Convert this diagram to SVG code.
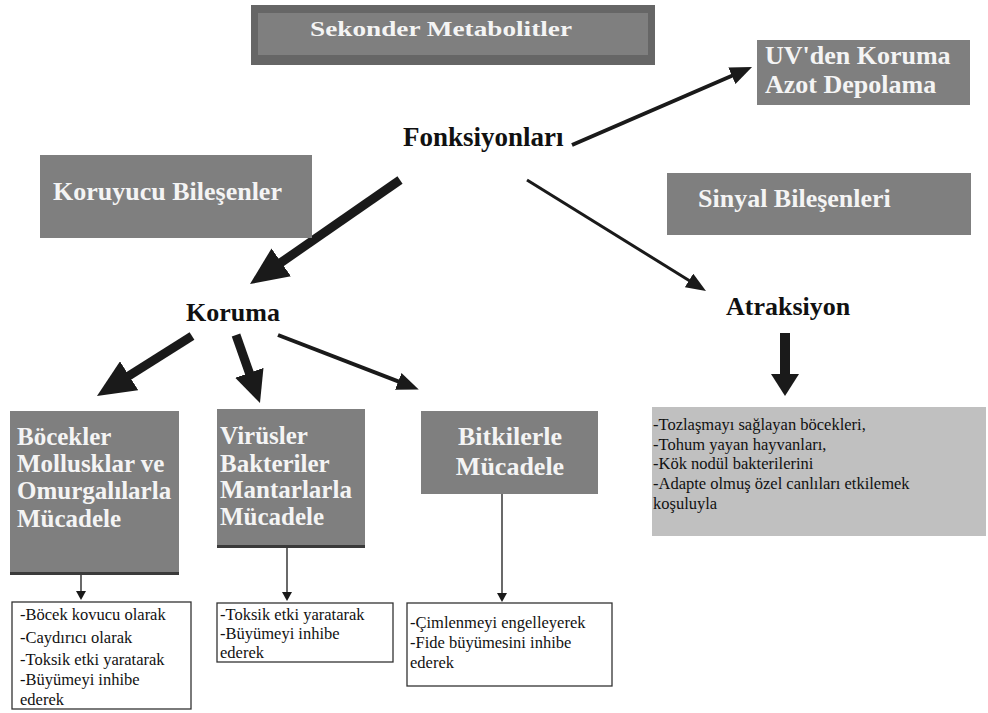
<svg xmlns="http://www.w3.org/2000/svg" width="988" height="713" viewBox="0 0 988 713">
<style>
.box{fill:#7f7f7f}
.h{font-family:"Liberation Serif","Times New Roman",serif;font-weight:bold;fill:#f4f4f4}
.k{font-family:"Liberation Serif","Times New Roman",serif;font-weight:bold;fill:#111}
.t{font-family:"Liberation Serif","Times New Roman",serif;fill:#111;font-size:16.5px}
.ln{stroke:#1a1a1a;fill:none}
.wb{fill:#fff;stroke:#333;stroke-width:1.3}
</style>
<defs>
<marker id="mBig" markerUnits="userSpaceOnUse" viewBox="0 0 38 34" markerWidth="38" markerHeight="34" refX="2" refY="17" orient="auto"><path d="M0,0 L38,17 L0,34 z" fill="#1a1a1a"/></marker>
<marker id="mMid" markerUnits="userSpaceOnUse" viewBox="0 0 32 30" markerWidth="32" markerHeight="30" refX="2" refY="15" orient="auto"><path d="M0,0 L32,15 L0,30 z" fill="#1a1a1a"/></marker>
<marker id="mDown" markerUnits="userSpaceOnUse" viewBox="0 0 22 28" markerWidth="22" markerHeight="28" refX="2" refY="14" orient="auto"><path d="M0,0 L22,14 L0,28 z" fill="#1a1a1a"/></marker>
<marker id="mS1" markerUnits="userSpaceOnUse" viewBox="0 0 22 18" markerWidth="22" markerHeight="18" refX="2" refY="9" orient="auto"><path d="M0,0 L22,9 L0,18 z" fill="#1a1a1a"/></marker>
<marker id="mS2" markerUnits="userSpaceOnUse" viewBox="0 0 20 16" markerWidth="20" markerHeight="16" refX="2" refY="8" orient="auto"><path d="M0,0 L20,8 L0,16 z" fill="#1a1a1a"/></marker>
<marker id="mT" markerUnits="userSpaceOnUse" viewBox="0 0 9 10" markerWidth="9" markerHeight="10" refX="1" refY="5" orient="auto"><path d="M0,0 L9,5 L0,10 z" fill="#1a1a1a"/></marker>
</defs>

<g id="connectors">
<line class="ln" x1="400" y1="180" x2="279.6" y2="263.5" stroke-width="9" marker-end="url(#mBig)"/>
<line class="ln" x1="192" y1="336" x2="127.4" y2="376.8" stroke-width="9" marker-end="url(#mBig)"/>
<line class="ln" x1="236" y1="335" x2="250" y2="374.7" stroke-width="9" marker-end="url(#mMid)"/>
<line class="ln" x1="278" y1="335" x2="400.1" y2="382.2" stroke-width="4" marker-end="url(#mS1)"/>
<line class="ln" x1="572" y1="145" x2="733.7" y2="75" stroke-width="4" marker-end="url(#mS1)"/>
<line class="ln" x1="527" y1="180" x2="690.7" y2="281.5" stroke-width="3" marker-end="url(#mS2)"/>
<line class="ln" x1="785" y1="333" x2="785" y2="376" stroke-width="10" marker-end="url(#mDown)"/>
<line class="ln" x1="81" y1="575" x2="81" y2="592" stroke-width="1.3" marker-end="url(#mT)"/>
<line class="ln" x1="287" y1="547" x2="287" y2="593" stroke-width="1.3" marker-end="url(#mT)"/>
<line class="ln" x1="502" y1="494" x2="502" y2="594" stroke-width="1.3" marker-end="url(#mT)"/>
</g>

<g id="title">
<rect x="251" y="5" width="404" height="60" fill="#666"/>
<rect x="258" y="13" width="390" height="42" fill="#7f7f7f"/>
<text class="h" x="441" y="36" font-size="21" text-anchor="middle" textLength="262" lengthAdjust="spacingAndGlyphs">Sekonder Metabolitler</text>
</g>

<g id="uv">
<rect class="box" x="757" y="40" width="213" height="65"/>
<text class="h" x="765" y="64" font-size="26">UV'den Koruma</text>
<text class="h" x="765" y="93" font-size="26">Azot Depolama</text>
</g>

<g id="fonksiyonlari">
<text class="k" x="403" y="146" font-size="27">Fonksiyonları</text>
</g>

<g id="koruyucu">
<rect class="box" x="40" y="155" width="272" height="83"/>
<text class="h" x="53" y="200" font-size="26">Koruyucu Bileşenler</text>
</g>

<g id="sinyal">
<rect class="box" x="667" y="173" width="304" height="62"/>
<text class="h" x="698" y="207" font-size="26">Sinyal Bileşenleri</text>
</g>

<g id="koruma">
<text class="k" x="186" y="321" font-size="26">Koruma</text>
</g>

<g id="atraksiyon">
<text class="k" x="726" y="315" font-size="26">Atraksiyon</text>
</g>

<g id="atraksiyon-list">
<rect x="652" y="407" width="334" height="129" fill="#c0c0c0"/>
<text class="t" x="653" y="430" font-size="17">-Tozlaşmayı sağlayan böcekleri,</text>
<text class="t" x="653" y="450" font-size="17">-Tohum yayan hayvanları,</text>
<text class="t" x="653" y="469" font-size="17">-Kök nodül bakterilerini</text>
<text class="t" x="653" y="489" font-size="17">-Adapte olmuş özel canlıları etkilemek</text>
<text class="t" x="653" y="509" font-size="17">koşuluyla</text>
</g>

<g id="bocekler">
<rect class="box" x="10" y="411" width="169" height="163"/>
<rect x="10" y="572" width="169" height="3" fill="#3a3a3a"/>
<text class="h" x="17" y="445" font-size="25">Böcekler</text>
<text class="h" x="17" y="472" font-size="25">Mollusklar ve</text>
<text class="h" x="17" y="499" font-size="25">Omurgalılarla</text>
<text class="h" x="17" y="527" font-size="25">Mücadele</text>
</g>

<g id="virusler">
<rect class="box" x="217" y="409" width="148" height="138"/>
<rect x="217" y="545" width="148" height="3" fill="#3a3a3a"/>
<text class="h" x="220" y="444" font-size="25">Virüsler</text>
<text class="h" x="220" y="472" font-size="25">Bakteriler</text>
<text class="h" x="220" y="498" font-size="25">Mantarlarla</text>
<text class="h" x="220" y="525" font-size="25">Mücadele</text>
</g>

<g id="bitkilerle">
<rect class="box" x="421" y="411" width="177" height="83"/>
<text class="h" x="510" y="445" font-size="26" text-anchor="middle">Bitkilerle</text>
<text class="h" x="510" y="475" font-size="26" text-anchor="middle">Mücadele</text>
</g>

<g id="bocekler-list">
<rect class="wb" x="12" y="602" width="179" height="107"/>
<text class="t" x="20" y="620">-Böcek kovucu olarak</text>
<text class="t" x="20" y="643">-Caydırıcı olarak</text>
<text class="t" x="20" y="665">-Toksik etki yaratarak</text>
<text class="t" x="20" y="685">-Büyümeyi inhibe</text>
<text class="t" x="20" y="705">ederek</text>
</g>

<g id="virusler-list">
<rect class="wb" x="217" y="603" width="176" height="59"/>
<text class="t" x="220" y="620">-Toksik etki yaratarak</text>
<text class="t" x="220" y="639">-Büyümeyi inhibe</text>
<text class="t" x="220" y="658">ederek</text>
</g>

<g id="bitkiler-list">
<rect class="wb" x="407" y="603" width="205" height="83"/>
<text class="t" x="410" y="628">-Çimlenmeyi engelleyerek</text>
<text class="t" x="410" y="648">-Fide büyümesini inhibe</text>
<text class="t" x="410" y="668">ederek</text>
</g>
</svg>
